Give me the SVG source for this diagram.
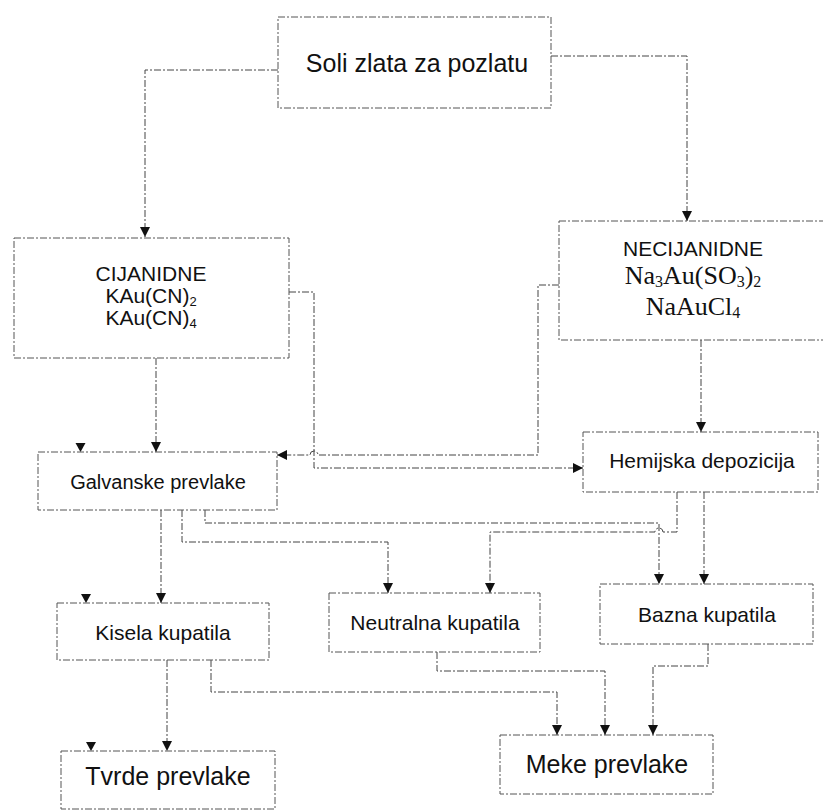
<svg xmlns="http://www.w3.org/2000/svg" width="823" height="811" viewBox="0 0 823 811">
<style>
.box{fill:#fff;stroke:#555;stroke-width:1;stroke-dasharray:7 2 2 2}
.ln{fill:none;stroke:#444;stroke-width:1;stroke-dasharray:7 2 2 2}
.ah{fill:#111;stroke:none}
text{font-family:"Liberation Sans",Arial,sans-serif;fill:#111;text-anchor:middle}
.ser{font-family:"Liberation Serif","Times New Roman",serif}
</style>
<defs>
<marker id="arr" viewBox="0 0 10 10" refX="10" refY="5" markerWidth="10" markerHeight="10" markerUnits="userSpaceOnUse" orient="auto">
<path d="M0,0 L10,5 L0,10 z" fill="#111"/>
</marker>
</defs>
<rect width="823" height="811" fill="#fff"/>

<g id="connectors">
<path class="ln" marker-end="url(#arr)" d="M278,70 H145 V237"/>
<path class="ln" marker-end="url(#arr)" d="M551,56 H687 V221"/>
<path class="ln" marker-end="url(#arr)" d="M156,358 V452"/>
<path class="ln" marker-end="url(#arr)" d="M289,292 H314 V468 H583"/>
<path class="ln" marker-end="url(#arr)" d="M559,285 H538 V455 H318 A4,4 0 0 0 310,455 H277"/>
<path class="ln" marker-end="url(#arr)" d="M701,340 V432"/>
<path class="ln" marker-end="url(#arr)" d="M161,510 V603"/>
<path class="ln" marker-end="url(#arr)" d="M182,510 V542 H388 V593"/>
<path class="ln" marker-end="url(#arr)" d="M205,510 V523 H659 V584"/>
<path class="ln" marker-end="url(#arr)" d="M677,492 V532 H663 A4,4 0 0 0 655,532 H490 V593"/>
<path class="ln" marker-end="url(#arr)" d="M704,492 V584"/>
<path class="ln" marker-end="url(#arr)" d="M167,660 V751"/>
<path class="ln" marker-end="url(#arr)" d="M211,660 V692 H557 V735"/>
<path class="ln" marker-end="url(#arr)" d="M437,652 V671 H605 V735"/>
<path class="ln" marker-end="url(#arr)" d="M708,644 V666 H653 V735"/>
<path class="ah" d="M75.5,443 L85.5,443 L80.5,452 z"/>
<path class="ah" d="M81,594 L91,594 L86,603 z"/>
<path class="ah" d="M86,742 L96,742 L91,751 z"/>
</g>

<g id="soli">
<rect class="box" x="278" y="17" width="273" height="91"/>
<text x="417" y="72" font-size="25">Soli zlata za pozlatu</text>
</g>

<g id="cijanidne">
<rect class="box" x="14" y="238" width="275" height="120"/>
<text x="151" y="281" font-size="21">CIJANIDNE</text>
<text x="151" y="303" font-size="21">KAu(CN)<tspan font-size="13" dy="3">2</tspan></text>
<text x="151" y="325" font-size="21">KAu(CN)<tspan font-size="13" dy="3">4</tspan></text>
</g>

<g id="necijanidne">
<rect class="box" x="559" y="221" width="270" height="119"/>
<text x="693" y="256" font-size="21">NECIJANIDNE</text>
<text class="ser" x="693" y="284" font-size="26">Na<tspan font-size="16" dy="3">3</tspan><tspan dy="-3">Au(SO</tspan><tspan font-size="16" dy="3">3</tspan><tspan dy="-3">)</tspan><tspan font-size="16" dy="3">2</tspan></text>
<text class="ser" x="693" y="315" font-size="26">NaAuCl<tspan font-size="16" dy="3">4</tspan></text>
</g>

<g id="galvanske">
<rect class="box" x="38" y="452" width="239" height="58"/>
<text x="158" y="489" font-size="20">Galvanske prevlake</text>
</g>

<g id="hemijska">
<rect class="box" x="583" y="432" width="235" height="60"/>
<text x="702" y="468" font-size="21">Hemijska depozicija</text>
</g>

<g id="kisela">
<rect class="box" x="57" y="603" width="212" height="57"/>
<text x="163" y="640" font-size="21">Kisela kupatila</text>
</g>

<g id="neutralna">
<rect class="box" x="329" y="593" width="211" height="59"/>
<text x="435" y="630" font-size="21">Neutralna kupatila</text>
</g>

<g id="bazna">
<rect class="box" x="600" y="584" width="213" height="60"/>
<text x="707" y="622" font-size="21">Bazna kupatila</text>
</g>

<g id="tvrde">
<rect class="box" x="61" y="751" width="214" height="58"/>
<text x="168" y="785" font-size="25">Tvrde prevlake</text>
</g>

<g id="meke">
<rect class="box" x="500" y="735" width="213" height="59"/>
<text x="607" y="773" font-size="25">Meke prevlake</text>
</g>
</svg>
